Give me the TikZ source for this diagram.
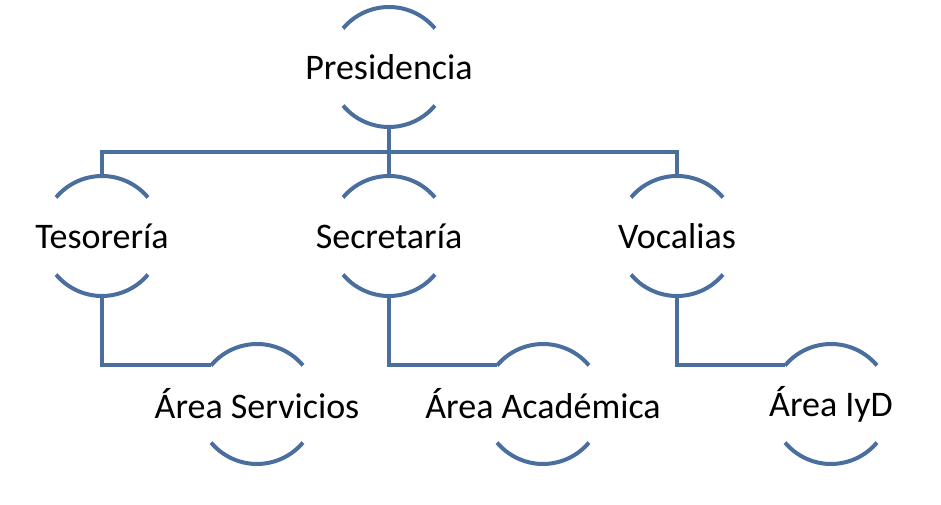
\documentclass[tikz,border=0pt]{standalone}
\usepackage{fontspec}
\setmainfont{Carlito}
\definecolor{orgblue}{RGB}{74,111,158}
\begin{document}
\begin{tikzpicture}[
    x=1pt, y=1pt,
    ring/.style={circle, minimum size=120pt, inner sep=0pt, outer sep=0pt,
        label={[font=\fontsize{36}{40}\selectfont]center:#1}},
    link/.style={draw=orgblue, line width=4pt}
]
\useasboundingbox (0,0) rectangle (941,505);

% Level 1
\node[ring=Presidencia] (pres) at (389, 438) {};

% Level 2
\node[ring=Tesorería] (tes) at (102, 269) {};
\node[ring=Secretaría] (sec) at (389, 269) {};
\node[ring=Vocalias] (voc) at (677, 269) {};

% Level 3
\node[ring=Área Servicios] (serv) at (257, 101) {};
\node[ring=Área Académica] (acad) at (543, 101) {};
\node[ring=Área IyD] (iyd) at (831, 101) {};

% arcs of each ring
\foreach \n in {pres, tes, sec, voc, serv, acad, iyd} {
    \draw[link] (\n.40) arc (40:140:60pt);
    \draw[link] (\n.220) arc (220:320:60pt);
}

% connectors
\coordinate (bar) at (389, 353);
\draw[link] (pres.south) -- (sec.north);
\draw[link] (tes.north) |- (bar) -| (voc.north);
\draw[link] (tes.south) |- (serv.140);
\draw[link] (sec.south) |- (acad.140);
\draw[link] (voc.south) |- (iyd.140);
\end{tikzpicture}
\end{document}
